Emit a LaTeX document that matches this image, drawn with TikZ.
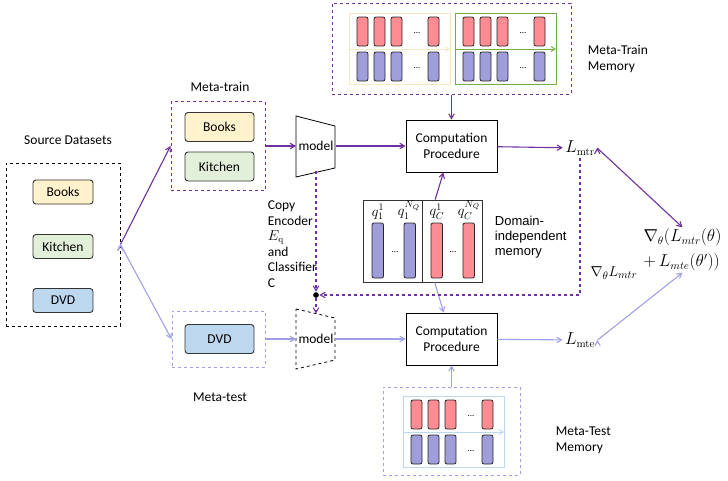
\documentclass[tikz,border=0pt]{standalone}
\usepackage{amsmath}
\usepackage[no-math]{fontspec}
\setmainfont{Carlito}
\newfontfamily\arialfont{Liberation Sans}
\usepackage{tikz}
\usetikzlibrary{positioning}
\usetikzlibrary{arrows}
\definecolor{trainc}{HTML}{7030A0}
\definecolor{testc}{HTML}{A0A0E6}
\definecolor{barred}{HTML}{FF8C92}
\definecolor{barblue}{HTML}{A09EDA}
\definecolor{booksc}{HTML}{FFF2CC}
\definecolor{kitchenc}{HTML}{E2F0D9}
\definecolor{dvdc}{HTML}{BDD7EE}
\definecolor{sandc}{HTML}{F8E8C2}
\definecolor{greenc}{HTML}{70AD47}
\definecolor{paleblue}{HTML}{BDD7EE}
% one memory block: two rows of bars, #1,#2 = top left corner, #3 = outline
\newcommand*{\memgrid}[3]{%
  \draw[#3,line width=0.9pt] (#1,#2) rectangle ++(101,71);
  \draw[#3,line width=0.9pt] (#1,#2+36) -- ++(101,0);
  \foreach \dx in {8,25,42,79} {
    \draw[bar,fill=barred] (#1+\dx,#2+4) rectangle ++(11,29);
    \draw[bar,fill=barblue] (#1+\dx,#2+39) rectangle ++(11,29);
  }
  \node[font=\small] at (#1+68,#2+20) {...};
  \node[font=\small] at (#1+68,#2+55) {...};
}

\begin{document}
\begin{tikzpicture}[x=1pt,y=-1pt,->,>=angle 60,line width=1.1pt]
        \tikzset{every node/.style={font=\fontsize{13.5}{15.5}\selectfont},
                 mathfont/.style={font=\fontsize{16}{25}\selectfont},
                 dset/.style={shape=rectangle,draw=black!80,line width=0.9pt,rounded corners=3pt,minimum width=60,minimum height=24},
                 mdset/.style={dset,minimum width=69,minimum height=29},
                 cproc/.style={shape=rectangle,draw,line width=0.8pt,minimum width=91,minimum height=52,align=center},
                 modelnode/.style={inner sep=0pt,minimum width=39,minimum height=48},
                 bar/.style={draw=black!85,line width=0.8pt,rounded corners=2pt}}

        \useasboundingbox (0,0) rectangle (728,480);

        % source datasets
        \node (srclabel) at (68,140) {Source Datasets};
        \node[draw,dashed,line width=0.9pt,minimum width=114,minimum height=163] (src) at (63,244.5) {};
        \node[dset,fill=booksc] (sbooks) at (63,192) {Books};
        \node[dset,fill=kitchenc] (skitchen) at (63,246.5) {Kitchen};
        \node[dset,fill=dvdc] (sdvd) at (63,300.5) {DVD};

        % meta-train / meta-test splits
        \node (mtrlabel) at (220,87) {Meta-train};
        \node[draw=trainc,dashed,line width=1pt,minimum width=94,minimum height=89] (mtrain) at (218,146) {};
        \node[mdset,fill=booksc] (mtbooks) at (219.5,127) {Books};
        \node[mdset,fill=kitchenc] (mtkitchen) at (219.5,166.5) {Kitchen};

        \node (mtelabel) at (220,397) {Meta-test};
        \node[draw=testc,dashed,line width=1pt,minimum width=93,minimum height=56] (mtest) at (218.5,339) {};
        \node[mdset,fill=dvdc] (mtdvd) at (219.5,339) {DVD};

        % models
        \draw[-,line width=0.8pt] (296,116) -- (335,126) -- (335,168) -- (296,177) -- cycle;
        \node[modelnode] (model1) at (316,146) {model};
        \draw[-,dashed,line width=0.8pt] (296,309) -- (335,318) -- (335,360) -- (296,369) -- cycle;
        \node[modelnode] (model2) at (316,339) {model};

        % computation
        \node[cproc] (cp1) at (451.5,146) {Computation\\Procedure};
        \node[cproc] (cp2) at (451.5,339) {Computation\\Procedure};

        \node[mathfont,inner sep=2pt] (lmtr) at (580,148) {\(L_{\mathrm{mtr}}\)};
        \node[mathfont,inner sep=2pt] (lmte) at (580,340) {\(L_{\mathrm{mte}}\)};
        \node[mathfont,align=left,anchor=west,inner sep=1pt] (grad) at (642,250) {\(\nabla_\theta(L_{mtr}(\theta)\)\\\(+\,L_{mte}(\theta'))\)};

        % meta-train memory
        \node[draw=trainc,dashed,line width=1pt,minimum width=239,minimum height=91] (trmem) at (451.5,48.5) {};
        \memgrid{349}{13}{sandc}
        \memgrid{455}{13}{greenc}
        \node[anchor=west,align=left] (trmemlabel) at (584,59) {Meta-Train\\Memory};

        % meta-test memory
        \node[draw=testc,dashed,line width=1pt,minimum width=137,minimum height=88] (temem) at (451.5,431) {};
        \memgrid{403}{396}{paleblue}
        \node[anchor=west,align=left] (tememlabel) at (552,440) {Meta-Test\\Memory};

        % domain-independent memory
        \node[draw=black!80,line width=0.9pt,minimum width=119,minimum height=82] (dim) at (422.5,241) {};
        \draw[-,black!80,line width=0.9pt] (422,200) -- (422,282);
        \foreach \bx/\bc in {372/barblue,404/barblue,431/barred,463/barred}
            \draw[-,bar,fill=\bc] (\bx,223) rectangle ++(11.5,55);
        \node[font=\small] at (395,252) {...};
        \node[font=\small] at (453,252) {...};
        \node[font=\fontsize{14}{17}\selectfont,inner sep=1pt] (q11) at (378,212) {\(q_1^1\)};
        \node[font=\fontsize{14}{17}\selectfont,inner sep=1pt] (q1n) at (409,210) {\(q_1^{N_Q}\)};
        \node[font=\fontsize{14}{17}\selectfont,inner sep=1pt] (qc1) at (437,212) {\(q_C^1\)};
        \node[font=\fontsize{14}{17}\selectfont,inner sep=1pt] (qcn) at (469,210) {\(q_C^{N_Q}\)};
        \node[anchor=west,align=left,font=\arialfont\fontsize{13}{15}\selectfont] (dimlabel) at (491,237) {Domain-\\independent\\memory};

        \node[anchor=north west,align=left] (copytxt) at (264,197) {Copy\\Encoder\\\(E_{\mathrm{q}}\)\\and\\Classifier\\C};

        % meta-train flow
        \path[draw=trainc] (src.east) edge (mtrain.west);
        \path[draw=trainc] (mtrain) edge (model1);
        \path[draw=trainc] (model1) edge (cp1);
        \path[draw=trainc] (cp1) edge (lmtr);
        \path[draw=trainc] (trmem) edge (cp1);
        \path[draw=trainc] (dim) edge (cp1);
        \path[draw=trainc] (lmtr.east) edge (grad.north);

        % meta-test flow
        \path[draw=testc] (src.east) edge (mtest.west);
        \path[draw=testc] (mtest) edge (model2);
        \path[draw=testc] (model2) edge (cp2);
        \path[draw=testc] (cp2) edge (lmte);
        \path[draw=testc] (dim) edge (cp2);
        \path[draw=testc] (temem) edge (cp2);
        \path[draw=testc] (lmte.east) edge (grad.south);

        % copy and gradient
        \node[circle,fill,inner sep=2pt] (junc) at (316,295) {};
        \draw[trainc,dashed] (model1.south) -- (junc);
        \draw[trainc,dashed] (junc) -- (316,313.5);
        \draw[trainc,dashed] (lmtr.south) |- (junc);
        \node[font=\fontsize{15}{18}\selectfont] (gradlabel) at (614,273) {\(\nabla_\theta L_{mtr}\)};
    \end{tikzpicture}
\end{document}
